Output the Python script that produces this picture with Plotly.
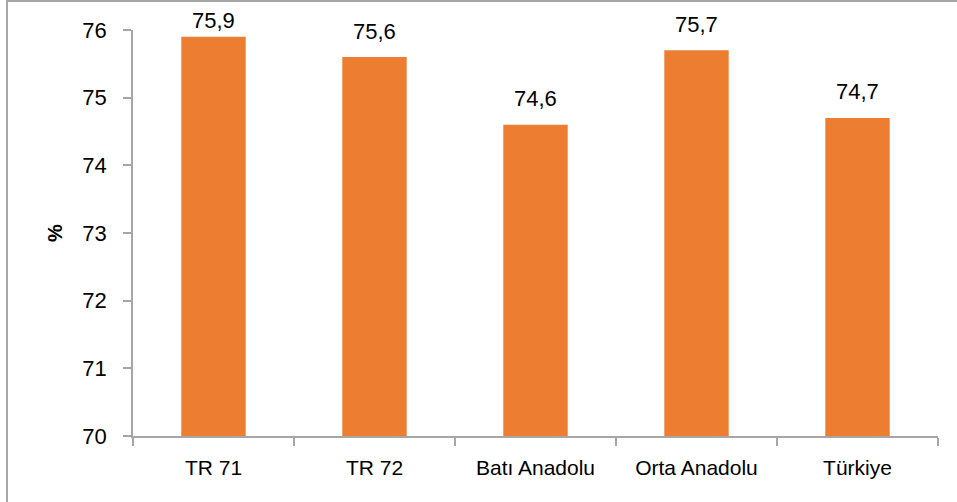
import plotly.graph_objects as go

categories = ["TR 71", "TR 72", "Batı Anadolu", "Orta Anadolu", "Türkiye"]
values = [75.9, 75.6, 74.6, 75.7, 74.7]
y_ticks = [70, 71, 72, 73, 74, 75, 76]

FONT = "Liberation Sans"
W, H = 957, 502
L, R, T, B = 133, 19, 30, 66
pw, ph = W - L - R, H - T - B
Y0, Y1 = 70, 76

fig = go.Figure(go.Bar(
    x=categories, y=values,
    marker=dict(color="#ED7D31", line=dict(width=0)),
    hoverinfo="x+y", width=0.4,
))

annotations = []
for c, v in zip(categories, values):
    bar_top_px = T + ph * (Y1 - v) / (Y1 - Y0)
    shift = min(26, bar_top_px - 20)
    annotations.append(dict(
        x=c, y=v, xref="x", yref="y", text=f"{v:.1f}".replace(".", ","),
        showarrow=False, yanchor="middle", yshift=shift,
        font=dict(family=FONT, size=22, color="#000000"),
    ))

fig.update_layout(
    width=W, height=H,
    margin=dict(l=L, r=R, t=T, b=B, autoexpand=False),
    paper_bgcolor="white", plot_bgcolor="white",
    separators=",.",
    showlegend=False,
    font=dict(family=FONT, size=21, color="#000000"),
    annotations=annotations,
    xaxis=dict(
        type="category", tickson="boundaries",
        showline=True, linecolor="#A6A6A6", linewidth=1.5,
        ticks="outside", ticklen=8, tickcolor="#A6A6A6", tickwidth=1.5,
        tickfont=dict(family=FONT, size=21, color="#000000"),
        ticklabelstandoff=12,
        showgrid=False, zeroline=False,
    ),
    yaxis=dict(
        range=[Y0, Y1], tickvals=y_ticks,
        showline=True, linecolor="#A6A6A6", linewidth=1.5,
        ticks="outside", ticklen=8, tickcolor="#A6A6A6", tickwidth=1.5,
        tickfont=dict(family=FONT, size=22, color="#000000"),
        ticklabelstandoff=12,
        showgrid=False, zeroline=False,
        title=dict(text="<b>%</b>", font=dict(family=FONT, size=20), standoff=14),
    ),
    shapes=[dict(
        type="rect", xref="paper", yref="paper",
        x0=(7 - L) / pw, x1=(W + 5 - L) / pw,
        y0=-(H + 5 - T - ph) / ph, y1=(ph + T - 1) / ph,
        line=dict(color="#A6A6A6", width=2), fillcolor="rgba(0,0,0,0)",
        layer="above",
    )],
)

fig.write_html(
    "out.html",
    config={"displayModeBar": False},
    post_script="document.body.style.margin='0';document.body.style.overflow='hidden';",
)
